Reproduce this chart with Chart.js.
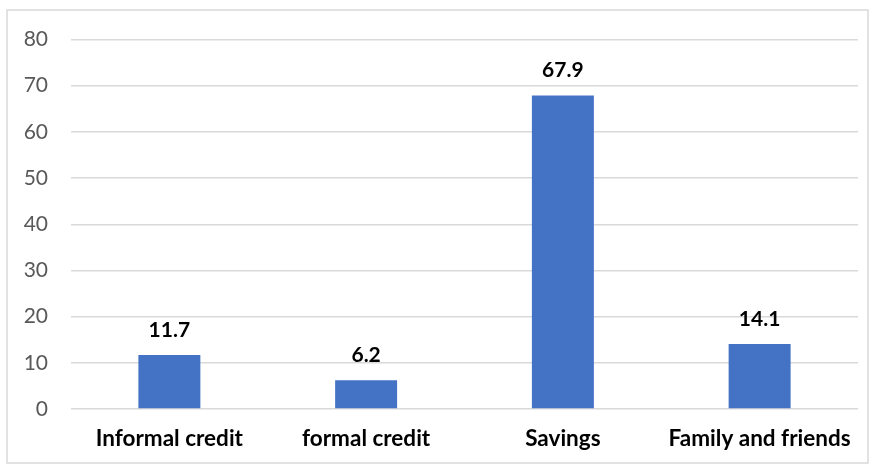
<!DOCTYPE html>
<html>
<head>
<meta charset="utf-8">
<script src="https://cdn.jsdelivr.net/npm/chart.js@4/dist/chart.umd.min.js"></script>
<style>
  html, body { margin: 0; padding: 0; background: #ffffff; }
  #wrap { width: 874px; height: 466px; position: relative; }
</style>
</head>
<body>
<div id="wrap"><canvas id="chart" width="874" height="466"></canvas></div>
<script>
const categories = ["Informal credit", "formal credit", "Savings", "Family and friends"];
const values = [11.7, 6.2, 67.9, 14.1];
const yTicks = [0, 10, 20, 30, 40, 50, 60, 70, 80];

const FONT = "Lato, 'Open Sans', sans-serif";

// Thin grey frame around the whole chart
const framePlugin = {
  id: 'frame',
  beforeDraw(chart) {
    const ctx = chart.ctx;
    ctx.save();
    ctx.fillStyle = '#ffffff';
    ctx.fillRect(0, 0, chart.width, chart.height);
    ctx.strokeStyle = '#d9d9d9';
    ctx.lineWidth = 1.5;
    ctx.strokeRect(7, 10, 861, 453);
    ctx.restore();
  }
};

// Bold value printed above each bar
const valueLabels = {
  id: 'valueLabels',
  afterDatasetsDraw(chart) {
    const ctx = chart.ctx;
    const meta = chart.getDatasetMeta(0);
    ctx.save();
    ctx.fillStyle = '#000000';
    ctx.font = "bold 21px " + FONT;
    ctx.textAlign = 'center';
    ctx.textBaseline = 'alphabetic';
    meta.data.forEach((bar, i) => {
      ctx.fillText(values[i].toFixed(1), bar.x, bar.y - 18);
    });
    ctx.restore();
  }
};

new Chart(document.getElementById('chart'), {
  type: 'bar',
  data: {
    labels: categories,
    datasets: [{
      data: values,
      backgroundColor: '#4472c4',
      borderWidth: 0,
      barPercentage: 0.315,
      categoryPercentage: 1.0
    }]
  },
  options: {
    responsive: false,
    animation: false,
    devicePixelRatio: 1,
    layout: { padding: { left: 0, right: 16, top: 39.5, bottom: 0 } },
    plugins: { legend: { display: false }, tooltip: { enabled: false } },
    scales: {
      y: {
        min: 0,
        max: 80,
        afterBuildTicks(scale) { scale.ticks = yTicks.map(v => ({ value: v })); },
        afterFit(scale) { scale.width = 71; },
        border: { display: false },
        grid: { color: '#d9d9d9', lineWidth: 1.5, drawTicks: false },
        ticks: { color: '#595959', font: { family: FONT, size: 21 }, padding: 23 }
      },
      x: {
        afterFit(scale) { scale.height = 57; },
        border: { display: false },
        grid: { display: false, drawTicks: false },
        ticks: { color: '#000000', font: { family: FONT, size: 22.5, weight: 'bold' }, padding: 16, maxRotation: 0 }
      }
    }
  },
  plugins: [framePlugin, valueLabels]
});
</script>
</body>
</html>
